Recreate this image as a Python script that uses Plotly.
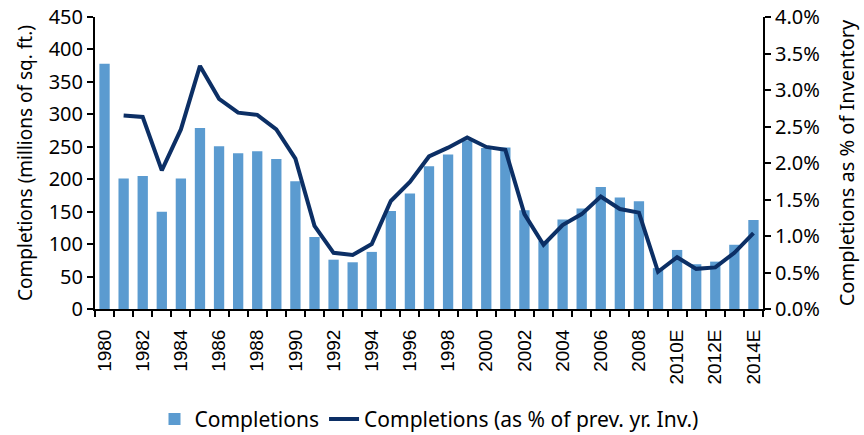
import plotly.graph_objects as go

years = list(range(1980, 2015))
tick_labels = ["1980", "1982", "1984", "1986", "1988", "1990", "1992", "1994", "1996",
               "1998", "2000", "2002", "2004", "2006", "2008", "2010E", "2012E", "2014E"]
completions = [378, 201, 205, 150, 201, 279, 251, 240, 243, 231, 197, 111, 76, 72, 88,
               151, 178, 220, 238, 260, 248, 249, 152, 105, 138, 155, 188, 172, 166,
               63, 91, 69, 73, 99, 137]
pct_years = years[1:]
pct_inventory = [2.65, 2.63, 1.90, 2.46, 3.33, 2.88, 2.69, 2.66, 2.46, 2.06, 1.14, 0.77,
                 0.74, 0.89, 1.48, 1.74, 2.09, 2.21, 2.35, 2.22, 2.18, 1.30, 0.88, 1.15,
                 1.30, 1.54, 1.37, 1.32, 0.51, 0.71, 0.55, 0.57, 0.77, 1.04]

BAR = "#5b9bd0"
LINE = "#0c2f65"
FONT = "Noto Sans"

fig = go.Figure()
fig.add_trace(go.Bar(x=years, y=completions, name="Completions",
                     marker=dict(color=BAR, line=dict(width=0)), yaxis="y"))
fig.add_trace(go.Scatter(x=pct_years, y=pct_inventory, name="Completions (as % of prev. yr. Inv.)",
                         mode="lines", line=dict(color=LINE, width=4), yaxis="y2"))

fig.update_layout(
    template="none",
    width=864, height=435,
    margin=dict(l=95, r=101, t=17, b=126, autoexpand=False),
    paper_bgcolor="white", plot_bgcolor="white",
    bargap=0.46,
    font=dict(family=FONT, size=19, color="black"),
    xaxis=dict(
        range=[1979.5, 2014.5],
        tickmode="array",
        tickvals=years[::2],
        ticktext=tick_labels,
        tickangle=-90,
        ticks="outside", ticklen=11, tickcolor="rgba(0,0,0,0)",
        tickfont=dict(family="Liberation Sans", size=19),
        showline=True, linecolor="black", linewidth=2,
        showgrid=False, zeroline=False, automargin=False,
        minor=dict(tickmode="linear", tick0=1979.5, dtick=1, ticks="outside",
                   ticklen=6, tickwidth=2, tickcolor="black", showgrid=False),
    ),
    yaxis=dict(
        range=[0, 450], dtick=50,
        title=dict(text="Completions (millions of sq. ft.)", font=dict(size=19), standoff=11),
        ticks="outside", ticklen=6, tickwidth=2, tickcolor="black",
        tickfont=dict(size=20), ticklabeloverflow="allow",
        showline=True, linecolor="black", linewidth=2,
        showgrid=False, zeroline=False, automargin=False,
    ),
    yaxis2=dict(
        range=[0, 4.0], dtick=0.5, overlaying="y", side="right",
        tickformat=".1f", ticksuffix="%",
        title=dict(text="Completions as % of Inventory", font=dict(size=20), standoff=21),
        ticks="outside", ticklen=6, tickwidth=2, tickcolor="black",
        tickfont=dict(size=20), ticklabeloverflow="allow",
        showline=True, linecolor="black", linewidth=2,
        showgrid=False, zeroline=False, automargin=False,
    ),
    legend=dict(orientation="h", x=0.5, xanchor="center", y=-0.378, yanchor="middle",
                font=dict(size=21), traceorder="normal", bgcolor="rgba(0,0,0,0)"),
    showlegend=True,
)

fig.write_html("out.html", config={"displayModeBar": False},
               post_script="document.body.style.margin='0';")
